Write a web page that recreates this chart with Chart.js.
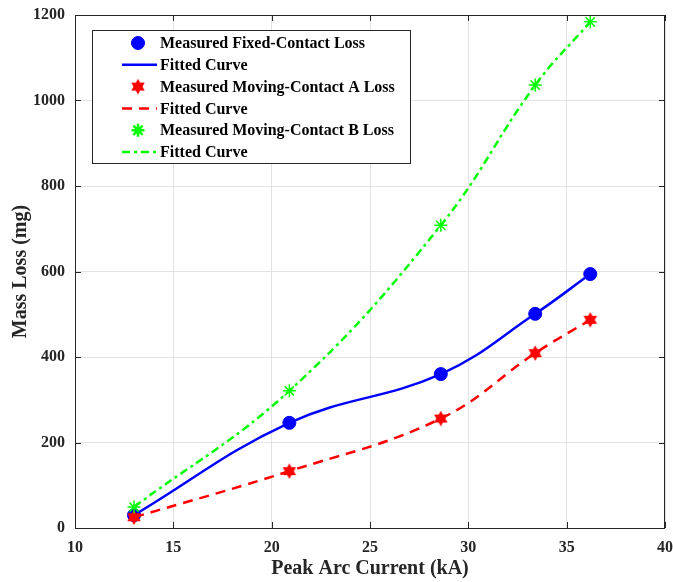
<!DOCTYPE html>
<html>
<head>
<meta charset="utf-8">
<script src="https://cdn.jsdelivr.net/npm/chart.js@4"></script>
<style>
  html,body{margin:0;padding:0;background:#fff;}
  #wrap{width:673px;height:582px;}
</style>
</head>
<body>
<div id="wrap"><canvas id="grafPerda" width="673" height="582"></canvas></div>
<script>
// --- dados ---
const correntes = [13, 20.9, 28.6, 33.4, 36.2];          // Peak Arc Current (kA)
const perdaFixo = [30, 246, 360, 501, 594];              // Fixed-contact (mg)
const perdaMovelA = [25, 133, 256, 409, 487];            // Moving-contact A (mg)
const perdaMovelB = [49, 321, 708, 1036, 1184];          // Moving-contact B (mg)
const xTicks = [10, 15, 20, 25, 30, 35, 40];
const yTicks = [0, 200, 400, 600, 800, 1000, 1200];
const rotulos = ['Measured Fixed-Contact Loss','Fitted Curve','Measured Moving-Contact A Loss','Fitted Curve','Measured Moving-Contact B Loss','Fitted Curve'];

const FONTE = '"Liberation Serif","Times New Roman",serif';
const COR_TXT = '#262626';

// estrela de 6 pontas (marcador hexagrama do MATLAB)
function hexagrama(cor){
  let cv = document.createElement('canvas');
  cv.width = 16; cv.height = 16;
  let ctx = cv.getContext('2d');
  ctx.fillStyle = cor;
  [ -90, 90 ].forEach(a0=>{
    ctx.beginPath();
    for(let k=0;k<3;k++){
      let a = (a0 + k*120)*Math.PI/180;
      let px = 8 + 7.8*Math.cos(a), py = 8 + 7.8*Math.sin(a);
      k ? ctx.lineTo(px,py) : ctx.moveTo(px,py);
    }
    ctx.closePath(); ctx.fill();
  });
  return cv;
}
const estrelaVermelha = hexagrama('#ff0000');

const pts = arr => correntes.map((x,i)=>({x:x,y:arr[i]}));

// moldura + ticks para dentro (estilo MATLAB)
const molduraPlug = {
  id:'moldura',
  afterDatasetsDraw(chart){
    const {ctx, chartArea:a, scales:{x,y}} = chart;
    ctx.save();
    ctx.strokeStyle = COR_TXT; ctx.lineWidth = 1;
    ctx.strokeRect(a.left+0.5, a.top+0.5, a.right-a.left-1, a.bottom-a.top);
    ctx.beginPath();
    xTicks.forEach(v=>{
      let px = Math.round(x.getPixelForValue(v))+0.5;
      ctx.moveTo(px,a.bottom); ctx.lineTo(px,a.bottom-6);
      ctx.moveTo(px,a.top); ctx.lineTo(px,a.top+6);
    });
    yTicks.forEach(v=>{
      let py = Math.round(y.getPixelForValue(v))+0.5;
      ctx.moveTo(a.left,py); ctx.lineTo(a.left+6,py);
      ctx.moveTo(a.right,py); ctx.lineTo(a.right-6,py);
    });
    ctx.stroke();
    ctx.restore();
  }
};

// legenda desenhada dentro do grafico
const legendaPlug = {
  id:'legendaDentro',
  afterDraw(chart){
    const ctx = chart.ctx;
    const bx = 92, by = 30, bw = 318, bh = 133;
    ctx.save();
    ctx.fillStyle = '#fff';
    ctx.fillRect(bx,by,bw,bh);
    ctx.strokeStyle = COR_TXT; ctx.lineWidth = 1;
    ctx.strokeRect(bx+0.5,by+0.5,bw,bh);
    chart.data.datasets.forEach((ds,i)=>{
      let yy = 43 + i*21.8;
      if(ds.showLine===false){
        ctx.fillStyle = ds.pointBackgroundColor;
        ctx.strokeStyle = ds.pointBorderColor;
        Chart.helpers.drawPoint(ctx,{pointStyle:ds.pointStyle,radius:ds.pointRadius,borderWidth:ds.pointBorderWidth,rotation:0},138,yy);
      } else {
        ctx.strokeStyle = ds.borderColor;
        ctx.lineWidth = ds.borderWidth;
        ctx.setLineDash(ds.borderDash||[]);
        ctx.beginPath(); ctx.moveTo(122,yy); ctx.lineTo(157,yy); ctx.stroke();
        ctx.setLineDash([]);
      }
      ctx.fillStyle = '#000';
      ctx.font = 'bold 16px '+FONTE;
      ctx.textBaseline = 'middle';
      ctx.fillText(ds.label,160,yy+1);
    });
    ctx.restore();
  }
};

window.grafPerda = new Chart(document.getElementById('grafPerda').getContext('2d'),{
  type:'scatter',
  data:{datasets:[
    {label:rotulos[0],data:pts(perdaFixo),showLine:false,pointStyle:'circle',pointRadius:6.5,pointHoverRadius:6.5,
      pointBackgroundColor:'#0000ff',pointBorderColor:'#0000ff',pointBorderWidth:1,order:6},
    {label:rotulos[1],data:pts(perdaFixo),showLine:true,pointRadius:0,borderColor:'#0000ff',borderWidth:2.5,tension:0.4,order:5},
    {label:rotulos[2],data:pts(perdaMovelA),showLine:false,pointStyle:estrelaVermelha,pointRadius:7,pointHoverRadius:7,
      pointBackgroundColor:'#ff0000',pointBorderColor:'#ff0000',pointBorderWidth:1,order:4},
    {label:rotulos[3],data:pts(perdaMovelA),showLine:true,pointRadius:0,borderColor:'#ff0000',borderWidth:2.5,borderDash:[10,7],tension:0.4,order:3},
    {label:rotulos[4],data:pts(perdaMovelB),showLine:false,pointStyle:'star',pointRadius:6.5,pointHoverRadius:6.5,
      pointBackgroundColor:'#00ff00',pointBorderColor:'#00ff00',pointBorderWidth:1.5,order:2},
    {label:rotulos[5],data:pts(perdaMovelB),showLine:true,pointRadius:0,borderColor:'#00ff00',borderWidth:2.5,borderDash:[8,4,3,4],tension:0.4,order:1}
  ]},
  options:{
    responsive:false,animation:false,
    layout:{padding:{left:0,right:7,top:15,bottom:0}},
    plugins:{legend:{display:false},tooltip:{enabled:false}},
    scales:{
      x:{type:'linear',min:10,max:40,
        afterFit:s=>{s.height=54;s.paddingLeft=0;s.paddingRight=0;},
        afterBuildTicks:s=>{s.ticks=xTicks.map(v=>({value:v}));},
        grid:{color:'#e3e3e3',drawTicks:false},border:{display:false},
        ticks:{padding:10,color:COR_TXT,font:{family:FONTE,size:16,weight:'bold'},maxRotation:0,callback:v=>String(v)},
        title:{display:true,text:'Peak Arc Current (kA)',color:COR_TXT,font:{family:FONTE,size:20,weight:'bold'},padding:{top:0,bottom:1}}
      },
      y:{type:'linear',min:0,max:1200,
        afterFit:s=>{s.width=75;s.paddingTop=0;s.paddingBottom=0;},
        afterBuildTicks:s=>{s.ticks=yTicks.map(v=>({value:v}));},
        grid:{color:'#e3e3e3',drawTicks:false},border:{display:false},
        ticks:{padding:10,color:COR_TXT,font:{family:FONTE,size:16,weight:'bold'},callback:v=>String(v)},
        title:{display:true,text:'Mass Loss (mg)',color:COR_TXT,font:{family:FONTE,size:20,weight:'bold'},padding:{top:9,bottom:0}}
      }
    }
  },
  plugins:[molduraPlug,legendaPlug]
});
</script>
</body>
</html>
